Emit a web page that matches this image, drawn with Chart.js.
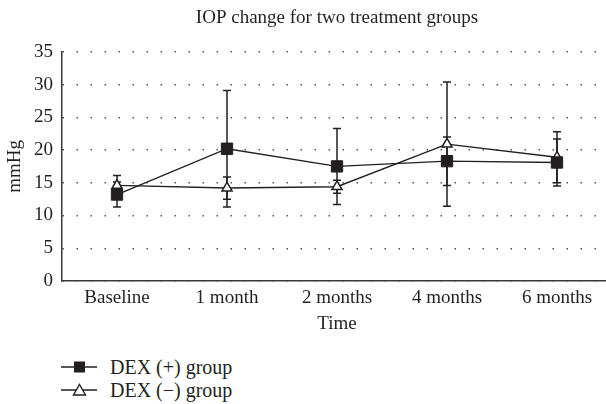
<!DOCTYPE html>
<html>
<head>
<meta charset="utf-8">
<script src="https://cdn.jsdelivr.net/npm/chart.js@4"></script>
<style>
  html, body { margin: 0; padding: 0; background: #fff; overflow: hidden; }
  #wrap { position: relative; width: 606px; height: 404px; overflow: hidden; }
  /* plot area runs a few px past the right edge in the original */
  #box { position: absolute; left: 0; top: 0; width: 612px; height: 340px; }
  .leg { position: absolute; left: 61px; height: 22px; display: flex; align-items: center;
         font-family: 'Liberation Serif', serif; font-size: 20px; color: #231f20; white-space: nowrap; }
  .leg svg { margin-right: 13px; }
</style>
</head>
<body>
<div id="wrap">
  <div id="box"><canvas id="iopChart"></canvas></div>
  <div id="legend"></div>
</div>
<script>
// values (mmHg, mean and error)
var categories = ['Baseline', '1 month', '2 months', '4 months', '6 months'];
var dexPlus = [13.2, 20.2, 17.5, 18.3, 18.1];
var dexPlusErr = [1.9, 8.9, 5.8, 3.7, 3.6];
var dexMinus = [14.6, 14.2, 14.4, 20.9, 18.9];
var dexMinusErr = [1.5, 1.7, 1.0, 9.5, 3.9];
var seriesNames = ['DEX (+) group', 'DEX (\u2212) group'];
var yTicks = [0, 5, 10, 15, 20, 25, 30, 35];

var ink = '#231f20';
var serif = 'Liberation Serif';

// draws vertical error bars with small caps, using the y scale
var errorBars = {
  id: 'errorBars',
  beforeDatasetsDraw(chart) {
    var ctx = chart.ctx;
    var y = chart.scales.y;
    ctx.save();
    ctx.strokeStyle = ink;
    ctx.lineWidth = 1.5;
    chart.data.datasets.forEach(function (ds, i) {
      var meta = chart.getDatasetMeta(i);
      meta.data.forEach(function (pt, j) {
        var top = y.getPixelForValue(ds.data[j] + ds.errors[j]);
        var bot = y.getPixelForValue(ds.data[j] - ds.errors[j]);
        ctx.beginPath();
        ctx.moveTo(pt.x, top); ctx.lineTo(pt.x, bot);
        ctx.moveTo(pt.x - 4, top); ctx.lineTo(pt.x + 4, top);
        ctx.moveTo(pt.x - 4, bot); ctx.lineTo(pt.x + 4, bot);
        ctx.stroke();
      });
    });
    ctx.restore();
  }
};

var ctx = document.getElementById('iopChart').getContext('2d');
var iopChart = new Chart(ctx, {
  type: 'line',
  data: {
    labels: categories,
    datasets: [{
      label: seriesNames[0],
      data: dexPlus,
      errors: dexPlusErr,
      borderColor: ink,
      borderWidth: 1.4,
      pointStyle: 'rect',
      pointRadius: 8,
      pointBackgroundColor: ink,
      pointBorderColor: ink,
      pointBorderWidth: 1
    }, {
      label: seriesNames[1],
      data: dexMinus,
      errors: dexMinusErr,
      borderColor: ink,
      borderWidth: 1.4,
      pointStyle: 'triangle',
      pointRadius: 5.8,
      pointBackgroundColor: '#fff',
      pointBorderColor: ink,
      pointBorderWidth: 1.5
    }]
  },
  options: {
    responsive: true,
    maintainAspectRatio: false,
    animation: false,
    layout: { autoPadding: false, padding: 0 },
    plugins: {
      legend: { display: false },
      tooltip: { enabled: false },
      title: {
        display: true,
        text: 'IOP change for two treatment groups',
        fullSize: false,
        color: ink,
        font: { family: serif, size: 19, weight: 'normal' },
        padding: { top: 7, bottom: 22 }
      }
    },
    scales: {
      x: {
        offset: true,
        grid: { display: false, drawTicks: false },
        border: { display: true, color: '#3a3a3a', width: 1.5 },
        ticks: { color: ink, padding: 6, font: { family: serif, size: 19 } },
        title: { display: true, text: 'Time', color: ink, padding: { top: 0, bottom: 5 },
                 font: { family: serif, size: 19 } },
        afterFit(scale) {
          scale.height = 59;
          scale.paddingLeft = 0;
          scale.paddingRight = 0;
        }
      },
      y: {
        min: 0,
        max: 35,
        afterBuildTicks(scale) { scale.ticks = yTicks.map(function (v) { return { value: v }; }); },
        grid: { color: '#555', lineWidth: 1.5, drawTicks: false },
        border: { display: true, color: '#3a3a3a', width: 1.5, dash: [1.5, 12.5] },
        ticks: { color: ink, padding: 9, font: { family: serif, size: 19 } },
        title: { display: true, text: 'mmHg', color: ink, padding: { top: 4, bottom: 0 },
                 font: { family: serif, size: 19 } },
        afterFit(scale) {
          scale.width = 62;
          scale.paddingTop = 0;
          scale.paddingBottom = 0;
        }
      }
    }
  },
  plugins: [errorBars]
});

// html legend stacked below the plot, built from the datasets
var legendTops = [356, 379];
var legend = document.getElementById('legend');
iopChart.data.datasets.forEach(function (ds, i) {
  var row = document.createElement('div');
  row.className = 'leg';
  row.style.top = legendTops[i] + 'px';
  var marker = ds.pointStyle === 'rect'
    ? '<rect x="13" y="2.5" width="11" height="11" fill="' + ink + '"/>'
    : '<polygon points="18.5,2.5 24.5,13 12.5,13" fill="#fff" stroke="' + ink + '" stroke-width="1.4"/>';
  row.innerHTML = '<svg width="36" height="16"><line x1="0" y1="8" x2="36" y2="8" stroke="' + ink +
    '" stroke-width="1.4"/>' + marker + '</svg><span>' + ds.label + '</span>';
  legend.appendChild(row);
});
</script>
</body>
</html>
